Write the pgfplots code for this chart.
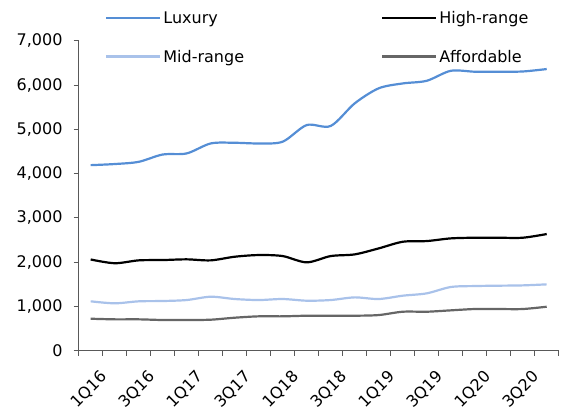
\documentclass[border=0pt]{standalone}
\usepackage{fontspec}
\setmainfont{DejaVu Sans}
\usepackage{pgfplots}
\pgfplotsset{compat=1.18}
\usepackage{pgfplotstable}

\definecolor{luxury}{HTML}{558ED5}
\definecolor{highrange}{HTML}{000000}
\definecolor{midrange}{HTML}{A9C2EA}
\definecolor{affordable}{HTML}{666666}
\definecolor{axisgray}{HTML}{595959}

% Quarterly series, 1Q16 (q=0) to 4Q20 (q=19)
\pgfplotstableread{
q  lux   high  mid   aff
0  4190  2060  1115  722
1  4215  1975  1070  708
2  4265  2040  1115  708
3  4430  2047  1122  693
4  4455  2063  1144  693
5  4680  2040  1219  700
6  4695  2122  1167  745
7  4680  2160  1144  776
8  4720  2137  1167  776
9  5095  1995  1129  790
10 5075  2137  1144  790
11 5585  2175  1204  790
12 5925  2310  1167  805
13 6035  2460  1242  880
14 6095  2476  1295  880
15 6320  2536  1438  911
16 6300  2551  1460  941
17 6300  2551  1468  941
18 6305  2551  1475  941
19 6360  2634  1498  993
}\prices

\begin{document}
\begin{tikzpicture}
\useasboundingbox (-78.7bp,-60.3bp) rectangle (483.3bp,350.7bp);
\begin{axis}[
  at={(0,0)}, anchor=south west,
  scale only axis, width=480bp, height=310bp,
  xmin=-0.5, xmax=19.5, ymin=0, ymax=7000,
  axis lines*=left,
  axis line style={draw=axisgray, line width=0.9bp},
  tick align=outside,
  tick style={draw=axisgray, line width=0.9bp},
  major tick length=5bp, minor tick length=5bp,
  ytick={0,1000,...,7000},
  xtick={0,2,...,18},
  xticklabels={1Q16,3Q16,1Q17,3Q17,1Q18,3Q18,1Q19,3Q19,1Q20,3Q20},
  minor xtick={-0.5,0.5,...,19.5},
  every major x tick/.append style={draw=none},
  font=\fontsize{16bp}{19bp}\selectfont,
  /pgf/number format/assume math mode=true,
  /pgf/number format/1000 sep={,},
  yticklabel style={anchor=east, inner sep=0pt, xshift=-11bp},
  xticklabel style={rotate=45, anchor=east, inner sep=0pt, xshift=-3bp, yshift=-23bp},
  legend columns=2,
  legend style={draw=none, fill=none, at={(0,1)}, anchor=north west,
    xshift=26.3bp, yshift=31bp, inner sep=0pt, row sep=22bp,
    cells={anchor=west}, nodes={inner sep=2bp},
    /tikz/every even column/.append style={column sep=135bp,
      nodes={text height=12bp, text depth=0.4bp}}},
  legend image code/.code={\draw[#1] (0bp,0bp) -- (54bp,0bp);},
  every axis plot/.append style={line width=2.2bp, smooth},
]
\addplot[color=luxury] table[x=q, y=lux] {\prices};
\addlegendentry{Luxury}
\addplot[color=highrange] table[x=q, y=high] {\prices};
\addlegendentry{High-range}
\addplot[color=midrange] table[x=q, y=mid] {\prices};
\addlegendentry{Mid-range}
\addplot[color=affordable] table[x=q, y=aff] {\prices};
\addlegendentry{Affordable}
\end{axis}
\end{tikzpicture}
\end{document}
